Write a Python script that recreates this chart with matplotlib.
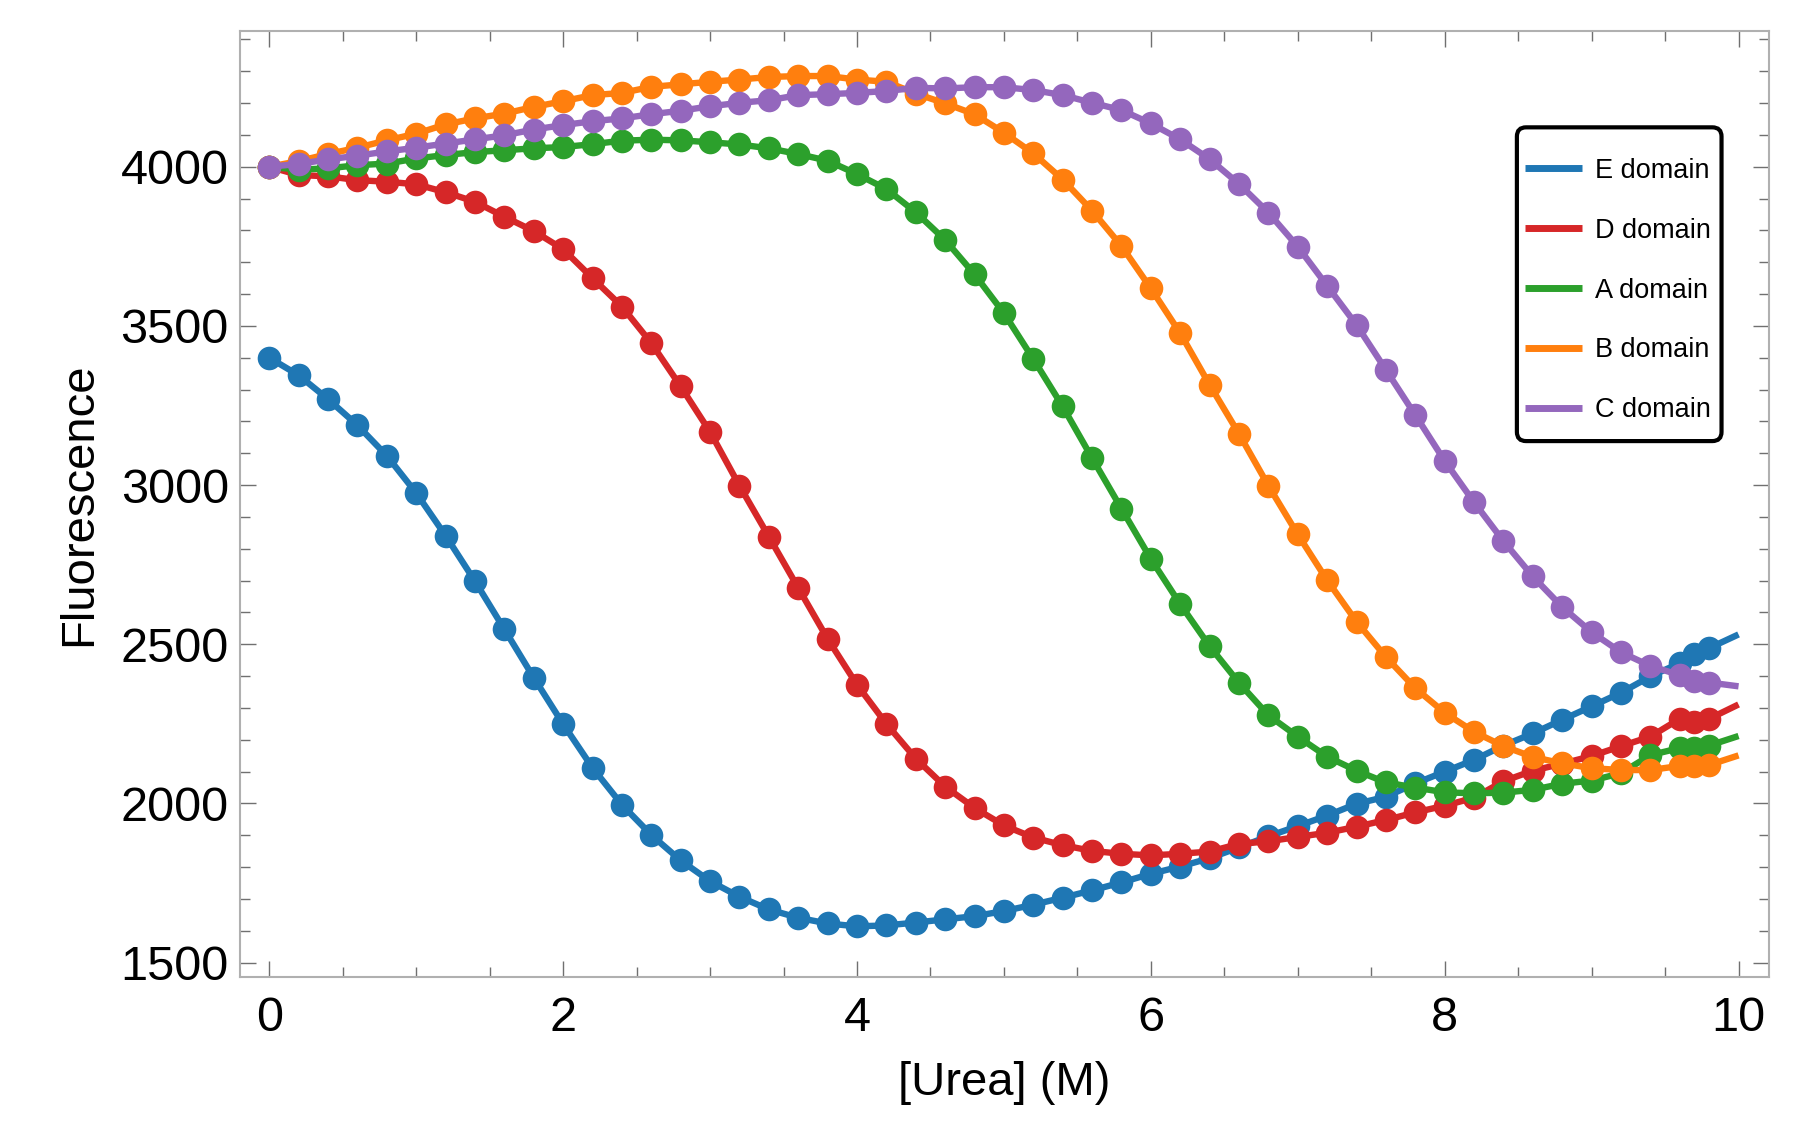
import matplotlib
matplotlib.use("Agg")
import matplotlib.pyplot as plt
from matplotlib.patches import FancyBboxPatch
from matplotlib.ticker import MultipleLocator

plt.rcParams['font.family'] = ['Liberation Sans', 'DejaVu Sans']

# urea concentrations (M)
urea = [0.0, 0.2, 0.4, 0.6, 0.8, 1.0, 1.2, 1.4, 1.6, 1.8,
        2.0, 2.2, 2.4, 2.6, 2.8, 3.0, 3.2, 3.4, 3.6, 3.8,
        4.0, 4.2, 4.4, 4.6, 4.8, 5.0, 5.2, 5.4, 5.6, 5.8,
        6.0, 6.2, 6.4, 6.6, 6.8, 7.0, 7.2, 7.4, 7.6, 7.8,
        8.0, 8.2, 8.4, 8.6, 8.8, 9.0, 9.2, 9.4, 9.6, 9.7, 9.8]

e_domain = [3400, 3345, 3270, 3188, 3092, 2975, 2841, 2698, 2547, 2395,
            2249, 2112, 1996, 1901, 1821, 1756, 1707, 1667, 1641, 1623,
            1614, 1617, 1626, 1636, 1646, 1662, 1682, 1704, 1727, 1752,
            1779, 1802, 1828, 1862, 1897, 1929, 1962, 1999, 2021, 2063,
            2100, 2137, 2182, 2220, 2263, 2305, 2348, 2399, 2441, 2468, 2488]

d_domain = [4000, 3974, 3970, 3958, 3953, 3945, 3920, 3890, 3843, 3798,
            3741, 3650, 3561, 3446, 3310, 3167, 2998, 2838, 2677, 2517,
            2373, 2250, 2141, 2053, 1986, 1931, 1893, 1869, 1851, 1842,
            1837, 1842, 1849, 1873, 1881, 1895, 1908, 1927, 1948, 1972,
            1993, 2018, 2070, 2103, 2125, 2149, 2180, 2210, 2266, 2255, 2266]

a_domain = [4000, 3991, 3995, 4005, 4010, 4026, 4037, 4046, 4052, 4058,
            4062, 4071, 4082, 4085, 4083, 4077, 4070, 4058, 4040, 4019,
            3977, 3930, 3857, 3770, 3662, 3540, 3396, 3247, 3085, 2926,
            2768, 2626, 2494, 2379, 2277, 2210, 2147, 2103, 2066, 2050,
            2035, 2032, 2034, 2043, 2062, 2072, 2095, 2152, 2174, 2174, 2182]

b_domain = [4000, 4018, 4040, 4060, 4083, 4104, 4133, 4152, 4167, 4188,
            4206, 4225, 4232, 4251, 4259, 4267, 4274, 4282, 4285, 4285,
            4274, 4267, 4230, 4199, 4165, 4107, 4042, 3960, 3862, 3751,
            3618, 3477, 3315, 3161, 2998, 2845, 2701, 2571, 2460, 2362,
            2285, 2225, 2180, 2146, 2126, 2111, 2105, 2105, 2118, 2118, 2121]

c_domain = [4000, 4009, 4023, 4035, 4048, 4060, 4073, 4086, 4099, 4117,
            4131, 4143, 4152, 4165, 4176, 4190, 4201, 4209, 4225, 4228,
            4232, 4238, 4248, 4246, 4250, 4250, 4241, 4225, 4201, 4178,
            4136, 4086, 4024, 3946, 3856, 3749, 3626, 3503, 3362, 3220,
            3076, 2946, 2824, 2713, 2617, 2538, 2475, 2432, 2403, 2385, 2380]

# where the fitted curves end, at 10 M
fit_x_end = 10.0
fit_end = {"E": 2531, "D": 2311, "A": 2212, "B": 2151, "C": 2368}

labels = ["E domain", "D domain", "A domain", "B domain", "C domain"]
keys = ["E", "D", "A", "B", "C"]
series = [e_domain, d_domain, a_domain, b_domain, c_domain]
colors = ["#1f77b4", "#d62728", "#2ca02c", "#ff7f0e", "#9467bd"]

fig = plt.figure(figsize=(18, 11.42), dpi=100)
ax = fig.add_axes([0.1333, 0.1445, 0.8497, 0.8285])

for key, lab, ys, col in zip(keys, labels, series, colors):
    ax.plot(urea + [fit_x_end], ys + [fit_end[key]], color=col, lw=4.6,
            label=lab, solid_capstyle="butt")
    ax.plot(urea, ys, "o", color=col, ms=17, mec="none")

ax.set_xlim(-0.2, 10.21)
ax.set_ylim(1455, 4427)

ax.xaxis.set_major_locator(MultipleLocator(2))
ax.xaxis.set_minor_locator(MultipleLocator(0.5))
ax.yaxis.set_major_locator(MultipleLocator(500))
ax.yaxis.set_minor_locator(MultipleLocator(100))

ax.tick_params(which="both", direction="in", top=True, right=True,
               color="#707070", width=1)
ax.tick_params(which="major", length=11.5, labelsize=35)
ax.tick_params(axis="y", which="major", pad=8)
ax.tick_params(axis="x", which="major", pad=14)
ax.tick_params(which="minor", length=7)

for sp in ax.spines.values():
    sp.set_color("#b0b0b0")
    sp.set_linewidth(1.5)

ax.set_xlabel("[Urea] (M)", fontsize=34, labelpad=14)
ax.set_ylabel("Fluorescence", fontsize=34, labelpad=14)

# legend box drawn separately so the padding can match the original
box = FancyBboxPatch((0.8349, 0.5664), 0.9687 - 0.8349, 0.898 - 0.5664,
                     boxstyle="round,pad=0,rounding_size=0.006",
                     mutation_aspect=1.617, transform=ax.transAxes,
                     facecolor="white", edgecolor="black", lw=3, zorder=4.5)
ax.add_patch(box)

leg = ax.legend(loc="upper left", bbox_to_anchor=(0.8401, 0.8657),
                borderaxespad=0, borderpad=0, fontsize=19.5,
                handlelength=2.1, handletextpad=0.5, labelspacing=1.25,
                frameon=False)
leg.set_zorder(5)
for line in leg.get_lines():
    line.set_linewidth(5)

fig.savefig("out.png", dpi=100)
